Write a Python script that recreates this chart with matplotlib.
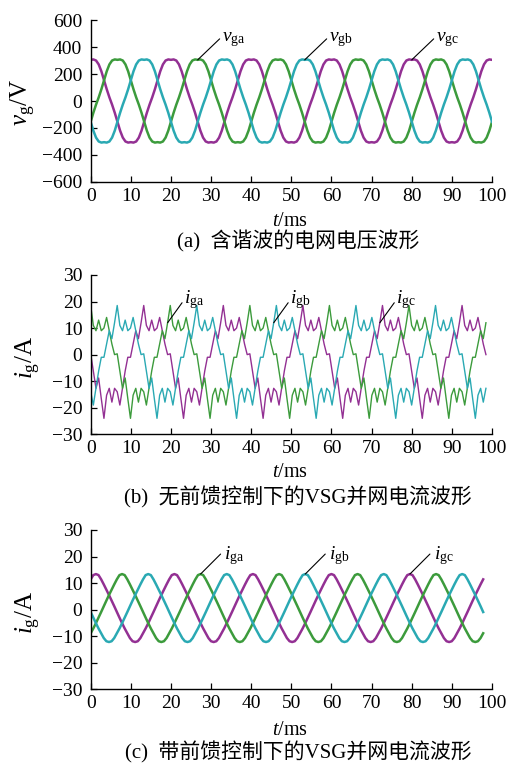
import numpy as np
import matplotlib
matplotlib.use('Agg')
import matplotlib.pyplot as plt

plt.rcParams['font.family'] = ['Liberation Serif', 'Noto Sans CJK SC']
plt.rcParams['mathtext.fontset'] = 'custom'
plt.rcParams['mathtext.rm'] = 'Liberation Serif'
plt.rcParams['mathtext.it'] = 'Liberation Serif:italic'
plt.rcParams['axes.unicode_minus'] = True

# ---------------- data (one period of each waveform) ----
x_ticks = [0, 10, 20, 30, 40, 50, 60, 70, 80, 90, 100]
v_ticks = [-600, -400, -200, 0, 200, 400, 600]
i_ticks = [-30, -20, -10, 0, 10, 20, 30]

# (a) grid voltage, 30 samples per 20 ms period, starting at the peak
vg_cycle = [305, 308, 300, 271, 220, 154, 87, 27, -27, -87, -154, -220, -271,
            -300, -308, -305, -308, -300, -271, -220, -154, -87, -27, 27, 87,
            154, 220, 271, 300, 308]
a_step = 0.6667          # ms between samples
a_count = 151
a_shift = {'c': 0, 'a': 10, 'b': 20}   # magenta (gc), green (ga), cyan (gb)

# (b) grid current without feed-forward, 30 samples per period
ib_cycle = [-14, -19, -12.7, -6.2, -1,
            -1, 4, 9, 6, 12, 18.5, 11, 9, 13, 9, 10, 14, 9, 4, 0,
            0.3, -6.2, -12.7, -8.8, -16.6, -24, -15.3, -12.7, -17.9, -12.7]
b_step = 0.661
b_count = 150
b_shift = {'b': 0, 'c': 10, 'a': 20}   # cyan (gb), magenta (gc), green (ga)

# (c) grid current with feed-forward, 30 samples per period
ic_cycle = [13.4, 13.0, 11.4, 9.5, 7.5, 5.5, 3.4, 1.3, -0.9, -3.0, -5.1, -7.1,
            -8.9, -10.7, -11.9, -12.2, -11.9, -10.7, -8.9, -7.1, -5.1, -3.0,
            -0.9, 1.3, 3.4, 5.5, 7.5, 9.5, 11.4, 13.0]
c_step = 0.652
c_count = 151
c_shift = {'c': 2, 'a': 12, 'b': 22}   # magenta (gc), green (ga), cyan (gb)

captions = ['(a)  含谐波的电网电压波形',
            '(b)  无前馈控制下的VSG并网电流波形',
            '(c)  带前馈控制下的VSG并网电流波形']

col = {'a': '#3c9b3c', 'b': '#2aa9b3', 'c': '#933093'}


def periodic(cycle, shift, n):
    return np.array([cycle[(i - shift) % len(cycle)] for i in range(n)])


ta = a_step * np.arange(a_count)
tb = b_step * np.arange(b_count)
tc = c_step * np.arange(c_count)
va = {k: periodic(vg_cycle, s, a_count) for k, s in a_shift.items()}
ib = {k: periodic(ib_cycle, s, b_count) for k, s in b_shift.items()}
ic = {k: periodic(ic_cycle, s, c_count) for k, s in c_shift.items()}

fig = plt.figure(figsize=(5.08, 7.64), dpi=100)
rects = [[0.1785, 0.7618, 0.790, 0.2120],
         [0.1785, 0.4316, 0.790, 0.2085],
         [0.1785, 0.0978, 0.790, 0.2085]]
axs = [fig.add_axes(r) for r in rects]


def style(ax, yt, ylab, ylab_x, ylab_y, xlab_y):
    ax.set_xlim(0, 100)
    ax.set_ylim(yt[0], yt[-1])
    ax.set_xticks(x_ticks)
    ax.set_yticks(yt)
    for s in ['top', 'right']:
        ax.spines[s].set_visible(False)
    for s in ['left', 'bottom']:
        ax.spines[s].set_linewidth(1.0)
    ax.tick_params(direction='in', length=4, width=0.9, labelsize=14)
    ax.tick_params(axis='x', pad=4)
    ax.tick_params(axis='y', pad=6)
    ax.set_xlabel(r'$t/\mathrm{ms}$', fontsize=14.5)
    ax.set_ylabel(ylab, fontsize=18)
    ax.yaxis.set_label_coords(ylab_x, ylab_y)
    ax.xaxis.set_label_coords(0.497, xlab_y)


def tag(ax, label, x, y, line_off, text_off):
    ax.annotate('', xy=(x, y), xytext=line_off, textcoords='offset points',
                arrowprops=dict(arrowstyle='-', color='k', lw=0.8,
                                shrinkA=0, shrinkB=0))
    ax.annotate(label, xy=(x, y), xytext=text_off, textcoords='offset points',
                ha='left', va='center', fontsize=14)


# (a)
ax = axs[0]
for k in ['c', 'a', 'b']:
    ax.plot(ta, va[k], color=col[k], lw=1.8)
style(ax, v_ticks, r'$v_{\mathrm{g}}/\mathrm{V}$', -0.132, 0.49, -0.185)
tag(ax, r'$v_{\mathrm{ga}}$', ta[40], va['a'][40], (15.8, 15.1), (17.3, 14.4))
tag(ax, r'$v_{\mathrm{gb}}$', ta[80], va['b'][80], (15.8, 15.1), (17.3, 14.4))
tag(ax, r'$v_{\mathrm{gc}}$', ta[120], va['c'][120], (15.8, 15.1), (17.3, 14.4))

# (b)
ax = axs[1]
for k in ['c', 'a', 'b']:
    ax.plot(tb, ib[k], color=col[k], lw=1.0)
style(ax, i_ticks, r'$i_{\mathrm{g}}/\mathrm{A}$', -0.118, 0.48, -0.18)
tag(ax, r'$i_{\mathrm{ga}}$', tb[29], ib['a'][29], (10.4, 14.4), (12.0, 17.0))
tag(ax, r'$i_{\mathrm{gb}}$', tb[69], ib['b'][69], (10.4, 14.4), (12.0, 17.0))
tag(ax, r'$i_{\mathrm{gc}}$', tb[109], ib['c'][109], (10.4, 14.4), (12.0, 17.0))

# (c)
ax = axs[2]
for k in ['c', 'a', 'b']:
    ax.plot(tc, ic[k], color=col[k], lw=1.8)
style(ax, i_ticks, r'$i_{\mathrm{g}}/\mathrm{A}$', -0.118, 0.48, -0.20)
tag(ax, r'$i_{\mathrm{ga}}$', tc[42], ic['a'][42], (14.4, 14.4), (17.0, 13.0))
tag(ax, r'$i_{\mathrm{gb}}$', tc[82], ic['b'][82], (14.4, 14.4), (17.0, 13.0))
tag(ax, r'$i_{\mathrm{gc}}$', tc[122], ic['c'][122], (14.4, 14.4), (17.0, 13.0))

# captions
cap_y = [1 - 241 / 764, 1 - 497 / 764, 1 - 752 / 764]
for txt, y in zip(captions, cap_y):
    fig.text(0.587, y, txt, ha='center', va='center', fontsize=15)

fig.savefig('out.png', dpi=100)
